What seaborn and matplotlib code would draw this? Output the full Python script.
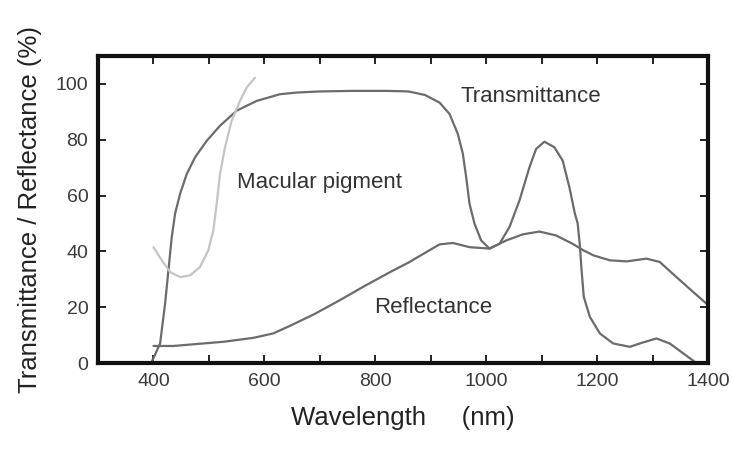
import matplotlib
matplotlib.use("Agg")
import matplotlib.pyplot as plt
import seaborn as sns
import pandas as pd
from matplotlib.ticker import MultipleLocator

# ---- data ----
trans_wl = [396, 412, 421, 427, 433, 439, 448, 460, 475, 496, 520, 550, 586, 628,
            658, 700, 760, 820, 860, 890, 916, 934, 949, 958, 964, 970, 979, 991,
            1006, 1024, 1042, 1060, 1078, 1090, 1105, 1123, 1138, 1150, 1160, 1165,
            1169, 1172, 1176, 1187, 1205, 1229, 1259, 1277, 1307, 1331, 1355, 1379]
trans = [0, 7, 21.3, 33.2, 45.1, 53.5, 60.6, 67.7, 73.7, 79.6, 85, 90.4, 93.9, 96.3,
         96.9, 97.3, 97.5, 97.5, 97.3, 96, 93.3, 89.2, 82, 74.9, 66.5, 57, 49.9, 43.9,
         41, 42.7, 48.7, 58.2, 70.1, 76.7, 79.3, 77.3, 72.5, 63, 53.5, 50,
         42, 33.2, 23.7, 16.5, 10.6, 7, 5.8, 7, 8.8, 7, 3.5, 0]

refl_wl = [400, 436, 526, 580, 616, 646, 690, 736, 780, 826, 860, 890, 916, 940,
           970, 1006, 1036, 1066, 1096, 1126, 1156, 1175, 1193, 1223, 1253, 1289,
           1313, 1343, 1373, 1397]
refl = [6.1, 6.1, 7.6, 9, 10.6, 13.3, 17.5, 22.5, 27.5, 32.5, 36, 39.5, 42.5, 43,
        41.5, 41, 43.9, 46.1, 47.1, 45.7, 42.7, 40.4, 38.6, 36.8, 36.4, 37.4,
        36.2, 30.8, 25.5, 21.3]

mac_wl = [400, 415, 430, 448, 466, 484, 499, 508, 514, 520, 529, 541, 556, 568, 583]
mac = [41.5, 36.8, 32.6, 30.8, 31.4, 34.4, 40.4, 47.5, 57, 67.7, 77.3, 86.8, 93.9,
       98.7, 102.2]

x_ticks = [400, 600, 800, 1000, 1200, 1400]
y_ticks = [0, 20, 40, 60, 80, 100]

# ---- style ----
sns.set_theme(style="ticks")
plt.rcParams['font.family'] = ['Liberation Sans', 'DejaVu Sans']

fig = plt.figure(figsize=(7.32, 4.5), dpi=100)
ax = fig.add_axes([98 / 732, 1 - 363 / 450, (708 - 98) / 732, (363 - 56) / 450])

df_t = pd.DataFrame({"wl": trans_wl, "v": trans})
df_r = pd.DataFrame({"wl": refl_wl, "v": refl})
df_m = pd.DataFrame({"wl": mac_wl, "v": mac})

dark = "#6b6b6b"
sns.lineplot(data=df_t, x="wl", y="v", sort=False, ax=ax, color=dark, lw=1.6)
sns.lineplot(data=df_r, x="wl", y="v", sort=False, ax=ax, color=dark, lw=1.6)
sns.lineplot(data=df_m, x="wl", y="v", sort=False, ax=ax, color="#c4c4c4", lw=1.6)

ax.set_xlim(300, 1400)
ax.set_ylim(0, 110)
ax.set_xticks(x_ticks)
ax.set_yticks(y_ticks)
ax.xaxis.set_minor_locator(MultipleLocator(100))
ax.tick_params(which="both", direction="in", top=True, right=True,
               length=6, width=1.3, color="#111111", labelsize=14,
               labelcolor="#3a3a3a", pad=7)
for s in ax.spines.values():
    s.set_linewidth(3)
    s.set_color("#111111")

ax.set_xlabel("Wavelength     (nm)", fontsize=18.5, color="#222222", labelpad=12)
ax.set_ylabel("Transmittance / Reflectance (%)", fontsize=18.5, color="#222222",
              labelpad=10)

txt_kw = dict(fontsize=16, color="#333333", ha="center", va="center")
ax.text(1080, 95.4, "Transmittance", **txt_kw)
ax.text(700, 64.6, "Macular pigment", **txt_kw)
ax.text(904, 20, "Reflectance", **txt_kw)

fig.savefig("out.png", dpi=100)
